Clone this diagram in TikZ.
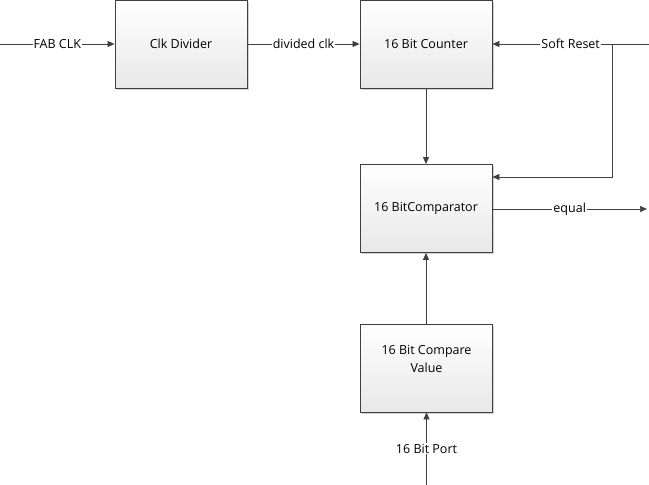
\documentclass[tikz,border=0pt]{standalone}
\usepackage{fontspec}
\setmainfont{Open Sans}
\usetikzlibrary{arrows.meta,shadows}
\definecolor{ln}{HTML}{404040}
\begin{document}
\begin{tikzpicture}[x=1pt,y=-1pt,
  font=\fontsize{12.5}{18}\selectfont,
  blk/.style={draw=ln, line width=0.8pt, minimum width=132pt, minimum height=88pt, inner sep=0pt,
    top color=white, bottom color=gray!18, align=center,
    drop shadow={shadow xshift=1.5pt, shadow yshift=-1.5pt, fill=gray!45, opacity=0.8}},
  wire/.style={draw=ln, line width=0.7pt},
  arr/.style={wire, -{Triangle[length=7pt,width=6pt]}},
  lbl/.style={fill=white, inner sep=1pt, text=black}]
\useasboundingbox (0,0) rectangle (649,485);
\node[blk] (div) at (181,44) {Clk Divider};
\node[blk] (cnt) at (426,44) {16 Bit Counter};
\node[blk] (cmp) at (426,208.5) {16 BitComparator};
\node[blk] (val) at (426.5,368) {};
\node[align=center, inner sep=0pt] (valtxt) at ([yshift=9pt]val.center) {16 Bit Compare\\Value};
\coordinate (fabin) at (0,44);
\coordinate (srin) at (649,44);
\coordinate (srb) at (612,44);
\coordinate (src) at (612,177);
\coordinate (eqout) at (647,209);
\coordinate (portin) at (426.5,485);
\draw[arr] (fabin) -- node[lbl] {FAB CLK} (div.west);
\draw[arr] (div.east) -- node[lbl] {divided clk} (cnt.west);
\draw[arr] (srin) -- node[lbl, pos=0.5] {Soft Reset} (cnt.east);
\draw[arr] (srb) -- (src) -- (src -| cmp.east);
\draw[arr] (cnt.south) -- (cmp.north);
\draw[arr] (cmp.east |- eqout) -- node[lbl, pos=0.5] {equal} (eqout);
\draw[arr] (val.north -| cmp.south) -- (cmp.south);
\draw[arr] (portin) -- node[lbl, pos=0.5] {16 Bit Port} (val.south);
\end{tikzpicture}
\end{document}
